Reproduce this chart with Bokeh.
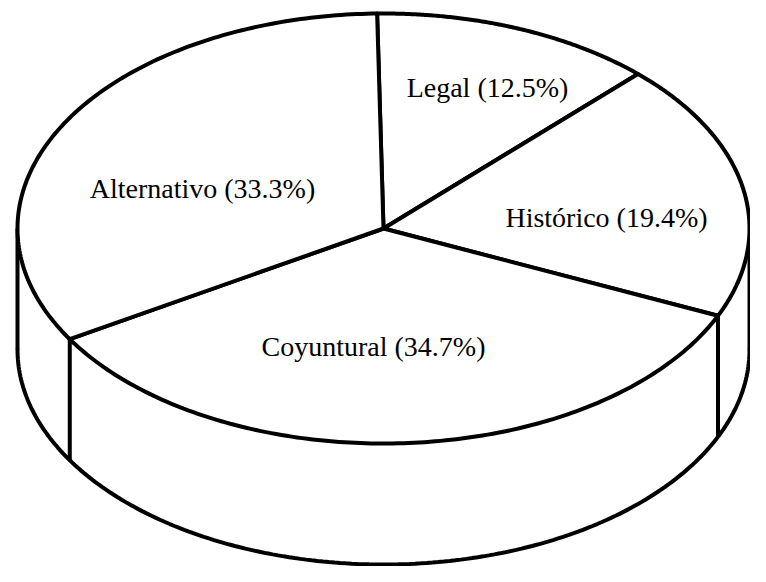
import numpy as np
from bokeh.plotting import figure
from bokeh.models import Range1d
from bokeh.embed import file_html
from bokeh.resources import INLINE
from bokeh.core.properties import value

# ---- data ----
categories = ["Legal", "Histórico", "Coyuntural", "Alternativo"]
percentages = [12.5, 19.4, 34.7, 33.3]
labels = [f"{c} ({v}%)" for c, v in zip(categories, percentages)]

# ---- layout / style ----
W, H = 750, 566
CX, CY, A, B, DEPTH = 383, 228, 366, 215, 121
START = 91.0
LABEL_POS = [(487, 87), (606, 217), (373, 346), (202, 188)]
LW = 4

p = figure(width=W, height=H, x_range=Range1d(0, W), y_range=Range1d(H, 0),
           output_backend="svg", toolbar_location=None, min_border=0)
p.axis.visible = False
p.grid.visible = False
p.outline_line_color = None
p.background_fill_color = "white"
p.border_fill_color = "white"


def ell(t_deg, dy=0.0):
    t = np.radians(t_deg)
    return CX + A * np.cos(t), CY + dy - B * np.sin(t)


# angles of slice boundaries (parametric angle on the ellipse), clockwise
frac = np.array(percentages) / np.sum(percentages)
cum = np.concatenate([[0.0], np.cumsum(frac)])
bounds = START - 360.0 * cum

# ---- side wall (front) ----
t_front = np.linspace(180, 360, 200)
xt, yt = ell(t_front)
xb, yb = ell(t_front[::-1], DEPTH)
p.patch(np.concatenate([xt, xb]), np.concatenate([yt, yb]),
        fill_color="white", line_color=None)
# silhouette
xl, yl = ell(180)
xr, yr = ell(0)
p.line([xl, xl], [yl, yl + DEPTH], line_color="black", line_width=LW)
p.line([xr, xr], [yr, yr + DEPTH], line_color="black", line_width=LW)
xbb, ybb = ell(t_front, DEPTH)
p.line(xbb, ybb, line_color="black", line_width=LW, line_cap="round")

# vertical edges at visible slice boundaries
for b in bounds[:-1]:
    if np.sin(np.radians(b)) < 0:
        x0, y0 = ell(b)
        p.line([x0, x0], [y0, y0 + DEPTH], line_color="black", line_width=LW)

# ---- top face slices ----
xs, ys = [], []
for i in range(len(categories)):
    t = np.linspace(bounds[i], bounds[i + 1], 150)
    ex, ey = ell(t)
    xs.append(np.concatenate([[CX], ex]).tolist())
    ys.append(np.concatenate([[CY], ey]).tolist())
p.patches(xs, ys, fill_color="white", line_color="black", line_width=LW,
          line_join="round")

# ---- labels ----
p.text(x=[q[0] for q in LABEL_POS], y=[q[1] for q in LABEL_POS], text=labels,
       text_align="center", text_baseline="middle",
       text_font=value("Liberation Serif"), text_font_size="28px",
       text_color="black")

open("out.html", "w").write(file_html(p, INLINE))
